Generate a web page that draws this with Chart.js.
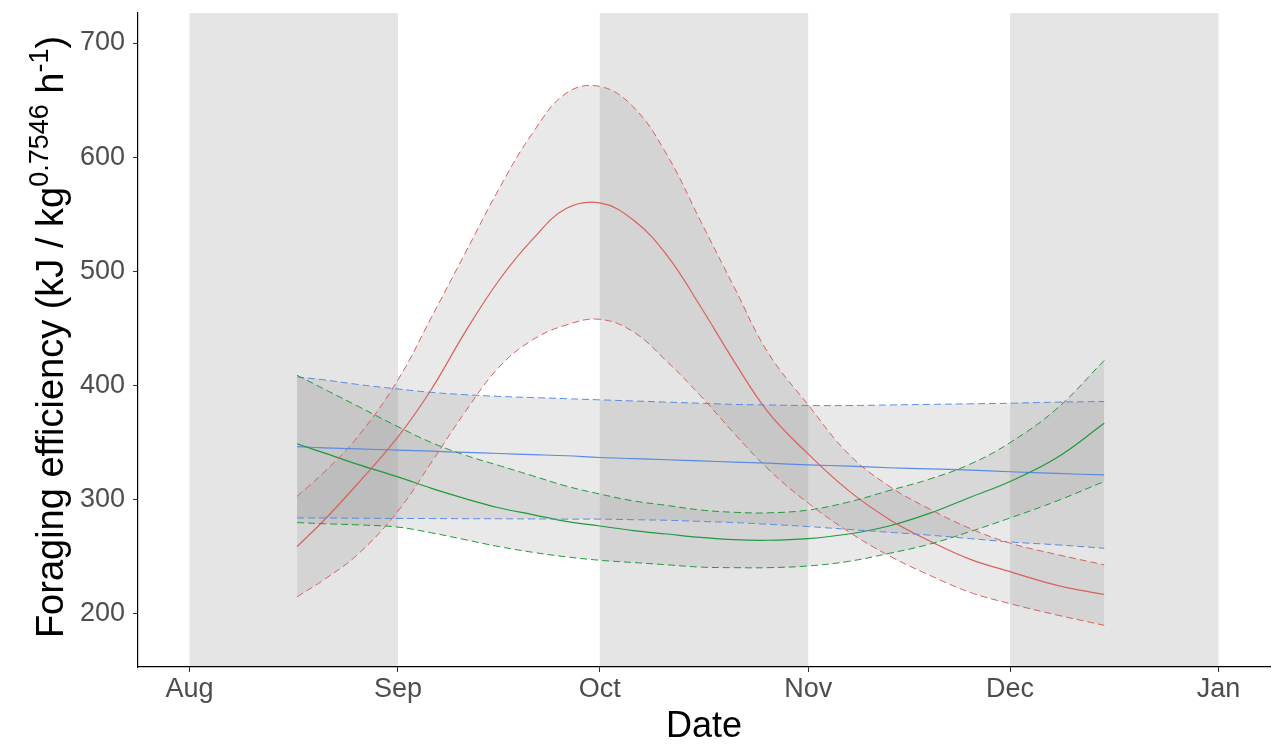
<!DOCTYPE html>
<html>
<head>
<meta charset="utf-8">
<script src="https://cdn.jsdelivr.net/npm/chart.js@4.4.1/dist/chart.umd.min.js"></script>
<style>
  html, body { margin: 0; padding: 0; background: #ffffff; overflow: hidden; }
  canvas { display: block; }
</style>
</head>
<body>
<canvas id="chart" width="1275" height="749"></canvas>
<script>
// Sample days, counted from 1 August
const days = [16, 20, 25, 31, 36, 41, 46, 51, 56, 61, 66, 71, 76, 81, 86, 92, 98, 104, 110, 116, 122, 129, 136];

// Month boundaries (days from 1 August) and their labels
const monthTicks  = [0, 31, 61, 92, 122, 153];
const monthLabels = ['Aug', 'Sep', 'Oct', 'Nov', 'Dec', 'Jan'];

// Alternate months shaded in the background: [start, end] in days
const shadedMonths = [[0, 31], [61, 92], [122, 153]];

const yTicks = [200, 300, 400, 500, 600, 700];

// Red group: fitted curve and confidence bounds
const redFit   = [259, 282, 314, 355, 397, 447, 492, 528, 555, 560, 545, 514, 469, 421, 377, 340, 308, 283, 264, 248, 237, 225, 217];
const redUpper = [303, 324, 355, 405, 460, 516, 572, 621, 656, 662, 644, 602, 544, 486, 429, 383, 340, 312, 292, 275, 262, 252, 243];
const redLower = [215, 230, 252, 290, 333, 377, 416, 440, 453, 458, 447, 421, 391, 358, 327, 297, 272, 251, 234, 219, 209, 199, 190];

// Green group
const greenFit   = [349, 341, 331, 320, 310, 301, 293, 287, 281, 277, 273, 270, 267, 265, 264.5, 266, 270, 277, 288, 302, 316, 337, 367];
const greenUpper = [409, 397, 382, 364, 350, 339, 330, 321, 312, 305, 299, 295, 291, 289, 288.5, 291, 298, 308, 318, 331, 350, 380, 422];
const greenLower = [280, 279, 278, 276, 271, 265, 259, 254, 250, 247, 245, 243, 241, 240.5, 240.5, 242, 246, 253, 261, 272, 284, 299, 316];

// Blue group
const blueFit   = [346.5, 345.5, 344.5, 343.5, 342.5, 341.5, 340.5, 339.5, 338.5, 337, 336, 335, 334, 333, 332, 330.5, 329.5, 328, 327, 326, 324.5, 323, 321.7];
const blueUpper = [407.5, 405, 401, 397, 394, 392, 390.5, 389.5, 388.5, 387.5, 386.5, 385.5, 384.5, 383.5, 383, 382.5, 382.5, 383, 383.5, 384, 384.5, 385.5, 386];
const blueLower = [284, 284, 283.8, 283.6, 283.5, 283.4, 283.3, 283.2, 283, 283, 282.5, 282, 281, 280, 278.5, 276.5, 274, 271.5, 269, 266, 263, 260.5, 257.5];

const RED = '#d9615b';
const GREEN = '#1f9a3c';
const BLUE = '#5a8be0';
const RIBBON = 'rgba(150,150,150,0.21)';
const BAND = '#e5e5e5';
const FONT = '"Liberation Sans", Arial, sans-serif';
const DASH = [7, 4];

const pts = vals => vals.map((v, i) => ({ x: days[i], y: v }));

function bound(vals, color, fillToNext) {
  return {
    data: pts(vals),
    borderColor: color,
    borderWidth: 1,
    borderDash: DASH,
    pointRadius: 0,
    tension: 0.4,
    fill: fillToNext ? '+1' : false,
    backgroundColor: RIBBON
  };
}
function fit(vals, color) {
  return {
    data: pts(vals),
    borderColor: color,
    borderWidth: 1.2,
    pointRadius: 0,
    tension: 0.4,
    fill: false
  };
}

// Shaded month bands behind the plot
const bandPlugin = {
  id: 'monthBands',
  beforeDraw(chart) {
    const { ctx, chartArea, scales } = chart;
    ctx.save();
    ctx.fillStyle = BAND;
    shadedMonths.forEach(([a, b]) => {
      const x0 = scales.x.getPixelForValue(a);
      const x1 = scales.x.getPixelForValue(b);
      ctx.fillRect(x0, chartArea.top, x1 - x0, chartArea.bottom - chartArea.top);
    });
    ctx.restore();
  }
};

// Axis titles (the y title carries superscript exponents)
const titlePlugin = {
  id: 'axisTitles',
  afterDraw(chart) {
    const { ctx, chartArea } = chart;
    const main = 38, sup = 27;
    const parts = [
      { t: 'Foraging efficiency (kJ / kg', s: main, up: 0 },
      { t: '0.7546', s: sup, up: 15 },
      { t: ' h', s: main, up: 0 },
      { t: '-1', s: sup, up: 15 },
      { t: ')', s: main, up: 0 }
    ];
    ctx.save();
    ctx.fillStyle = '#000000';
    ctx.textBaseline = 'alphabetic';
    ctx.textAlign = 'left';
    let total = 0;
    parts.forEach(p => { ctx.font = p.s + 'px ' + FONT; p.w = ctx.measureText(p.t).width; total += p.w; });
    const cy = (chartArea.top + chartArea.bottom) / 2 - 3;
    ctx.translate(63, cy);
    ctx.rotate(-Math.PI / 2);
    let x = -total / 2;
    parts.forEach(p => {
      ctx.font = p.s + 'px ' + FONT;
      ctx.fillText(p.t, x, -p.up);
      x += p.w;
    });
    ctx.restore();

    ctx.save();
    ctx.fillStyle = '#000000';
    ctx.font = '36px ' + FONT;
    ctx.textAlign = 'center';
    ctx.textBaseline = 'alphabetic';
    ctx.fillText('Date', (chartArea.left + chartArea.right) / 2, 737);
    ctx.restore();
  }
};

new Chart(document.getElementById('chart'), {
  type: 'line',
  data: {
    datasets: [
      bound(redUpper, RED, true),
      bound(redLower, RED, false),
      bound(greenUpper, GREEN, true),
      bound(greenLower, GREEN, false),
      bound(blueUpper, BLUE, true),
      bound(blueLower, BLUE, false),
      fit(redFit, RED),
      fit(greenFit, GREEN),
      fit(blueFit, BLUE)
    ]
  },
  options: {
    responsive: false,
    animation: false,
    devicePixelRatio: 1,
    layout: { padding: { top: 13, right: 5, left: 0, bottom: 0 } },
    plugins: {
      legend: { display: false },
      tooltip: { enabled: false },
      filler: { drawTime: 'beforeDatasetsDraw' }
    },
    scales: {
      x: {
        type: 'linear',
        min: -7.65,
        max: 160.65,
        afterBuildTicks: s => { s.ticks = monthTicks.map(v => ({ value: v })); },
        afterFit: s => { s.height = 82; s.paddingLeft = 0; s.paddingRight = 0; },
        grid: { drawOnChartArea: false, drawTicks: true, tickLength: 5, tickColor: '#333333', tickWidth: 1 },
        border: { display: true, color: '#000000', width: 1.2 },
        ticks: {
          autoSkip: false,
          maxRotation: 0,
          padding: 1,
          color: '#4d4d4d',
          font: { family: FONT, size: 27 },
          callback: v => monthLabels[monthTicks.indexOf(v)]
        }
      },
      y: {
        type: 'linear',
        min: 153.5,
        max: 726.3,
        afterBuildTicks: s => { s.ticks = yTicks.map(v => ({ value: v })); },
        afterFit: s => { s.width = 138; s.paddingTop = 0; s.paddingBottom = 0; },
        grid: { drawOnChartArea: false, drawTicks: true, tickLength: 5, tickColor: '#333333', tickWidth: 1 },
        border: { display: true, color: '#000000', width: 1.2 },
        ticks: {
          padding: 8,
          color: '#4d4d4d',
          font: { family: FONT, size: 27 },
          callback: v => String(v)
        }
      }
    }
  },
  plugins: [bandPlugin, titlePlugin]
});
</script>
</body>
</html>
